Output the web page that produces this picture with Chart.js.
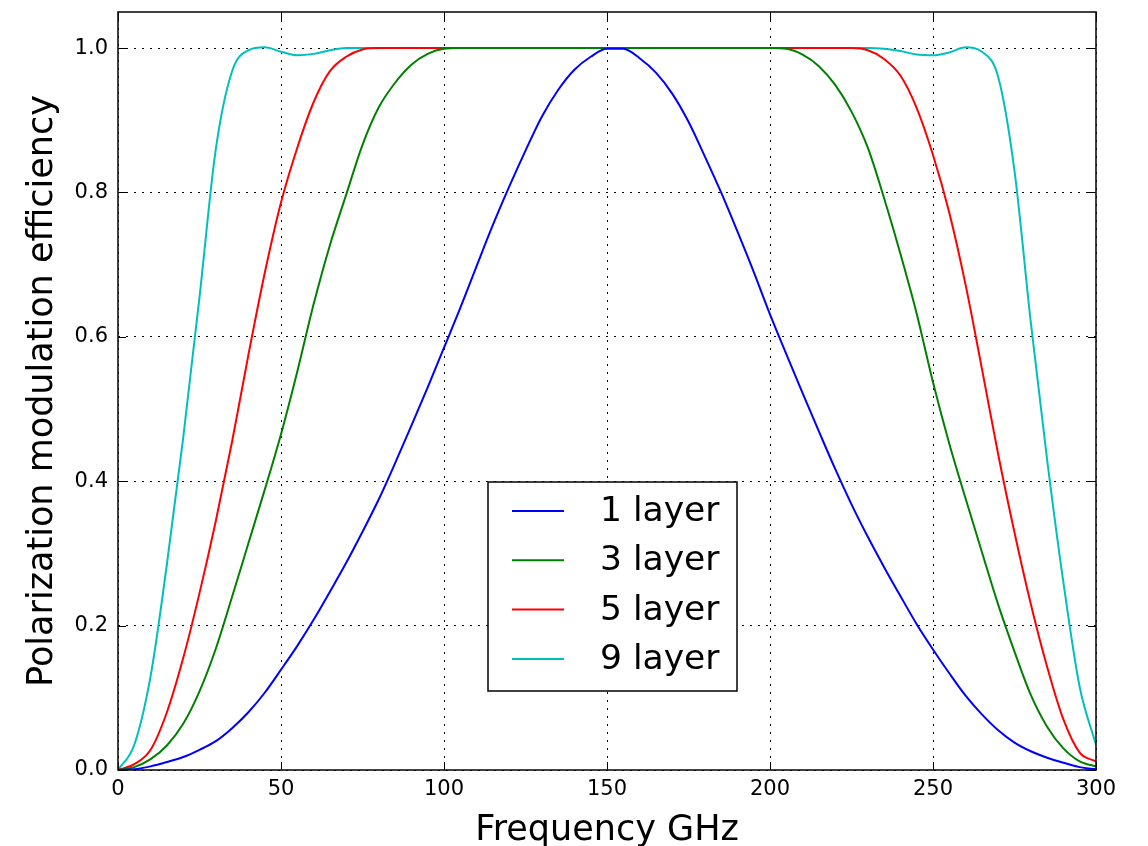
<!DOCTYPE html>
<html>
<head>
<meta charset="utf-8">
<script src="https://cdn.jsdelivr.net/npm/chart.js@4/dist/chart.umd.min.js"></script>
<style>
  html, body { margin: 0; padding: 0; background: #ffffff; }
  #wrap { width: 1148px; height: 846px; }
</style>
</head>
<body>
<div id="wrap"><canvas id="c" width="1148" height="846"></canvas></div>
<script>
// ---- data ----
const freq = [0,5,10,15,20,25,30,35,40,45,50,55,60,65,70,75,80,85,90,95,
  100,105,110,115,120,125,130,135,140,145,150,155,160,165,170,175,180,185,190,195,
  200,205,210,215,220,225,230,235,240,245,250,255,260,265,270,275,280,285,290,295,300];

const layer1 = [0,0.001,0.005,0.011,0.018,0.028,0.040,0.058,0.080,0.107,
  0.139,0.172,0.208,0.247,0.287,0.330,0.375,0.425,0.477,0.530,
  0.585,0.640,0.698,0.755,0.808,0.858,0.905,0.942,0.970,0.988,
  0.999,0.999,0.986,0.966,0.937,0.898,0.850,0.800,0.746,0.690,
  0.631,0.576,0.522,0.469,0.417,0.368,0.323,0.281,0.241,0.202,
  0.167,0.134,0.103,0.077,0.055,0.038,0.026,0.017,0.010,0.004,0.001];

const layer3 = [0,0.004,0.015,0.034,0.064,0.109,0.168,0.240,0.314,0.388,
  0.465,0.552,0.645,0.727,0.797,0.866,0.918,0.952,0.977,0.992,
  0.999,1,1,1,1,1,1,1,1,1,
  1,1,1,1,1,1,1,1,1,1,
  1,0.999,0.991,0.975,0.949,0.912,0.862,0.792,0.715,0.632,
  0.537,0.452,0.376,0.302,0.229,0.164,0.104,0.060,0.030,0.012,0.005];

const layer5 = [0,0.008,0.028,0.080,0.155,0.245,0.345,0.455,0.575,0.688,
  0.786,0.862,0.925,0.968,0.988,0.998,1,1,1,1,
  1,1,1,1,1,1,1,1,1,1,
  1,1,1,1,1,1,1,1,1,1,
  1,1,1,1,1,1,0.997,0.985,0.962,0.917,
  0.852,0.772,0.672,0.556,0.437,0.329,0.230,0.143,0.070,0.024,0.012];

const layer9 = [0,0.035,0.130,0.285,0.460,0.655,0.860,0.968,0.997,1.001,
  0.995,0.990,0.992,0.997,1,1,1,1,1,1,
  1,1,1,1,1,1,1,1,1,1,
  1,1,1,1,1,1,1,1,1,1,
  1,1,1,1,1,1,1,0.999,0.996,0.991,
  0.990,0.994,1.001,0.995,0.960,0.830,0.620,0.430,0.260,0.115,0.035];

const seriesLabels = ['1 layer', '3 layer', '5 layer', '9 layer'];
const xTicks = [0, 50, 100, 150, 200, 250, 300];
const yTicks = [0, 0.2, 0.4, 0.6, 0.8, 1.0];

// ---- chart ----
const FONT = "'DejaVu Sans', 'Liberation Sans', sans-serif";
Chart.defaults.color = '#000';
Chart.defaults.font.family = FONT;

const colors = ['#0000ff', '#008000', '#ff0000', '#00bfbf'];
const values = [layer1, layer3, layer5, layer9];

const datasets = values.map((vals, i) => ({
  label: seriesLabels[i],
  data: freq.map((f, j) => ({ x: f, y: vals[j] })),
  borderColor: colors[i],
  backgroundColor: colors[i],
  borderWidth: 2,
  pointRadius: 0,
  fill: false,
  cubicInterpolationMode: 'monotone'
}));

const frameTicks = {
  id: 'frameTicks',
  afterDatasetsDraw(chart) {
    const { ctx, chartArea: a, scales } = chart;
    ctx.save();
    ctx.strokeStyle = '#000';
    ctx.lineWidth = 1;
    const L = 8;
    ctx.beginPath();
    xTicks.forEach(v => {
      const px = Math.round(scales.x.getPixelForValue(v)) + 0.5;
      ctx.moveTo(px, a.bottom); ctx.lineTo(px, a.bottom - L);
      ctx.moveTo(px, a.top); ctx.lineTo(px, a.top + L);
    });
    yTicks.forEach(v => {
      const py = Math.round(scales.y.getPixelForValue(v)) + 0.5;
      ctx.moveTo(a.left, py); ctx.lineTo(a.left + L, py);
      ctx.moveTo(a.right, py); ctx.lineTo(a.right - L, py);
    });
    ctx.stroke();
    ctx.lineWidth = 1.6;
    ctx.strokeStyle = '#111';
    ctx.strokeRect(a.left, a.top, a.right - a.left, a.bottom - a.top);
    ctx.restore();
  }
};

const boxLegend = {
  id: 'boxLegend',
  afterDraw(chart) {
    const { ctx, chartArea: a } = chart;
    const bx = a.left + 370, by = a.top + 470, bw = 249, bh = 209;
    ctx.save();
    ctx.fillStyle = '#fff';
    ctx.fillRect(bx, by, bw, bh);
    ctx.strokeStyle = '#111';
    ctx.lineWidth = 1.6;
    ctx.strokeRect(bx, by, bw, bh);
    ctx.font = '34.5px ' + FONT;
    ctx.textBaseline = 'middle';
    ctx.textAlign = 'left';
    chart.data.datasets.forEach((ds, i) => {
      const y = by + 29 + i * 49.3;
      ctx.strokeStyle = ds.borderColor;
      ctx.lineWidth = 2;
      ctx.beginPath();
      ctx.moveTo(bx + 24, y); ctx.lineTo(bx + 76, y);
      ctx.stroke();
      ctx.fillStyle = '#000';
      ctx.fillText(ds.label, bx + 112, y + 1);
    });
    ctx.restore();
  }
};

new Chart(document.getElementById('c'), {
  type: 'line',
  data: { datasets },
  options: {
    responsive: false,
    devicePixelRatio: 1,
    animation: false,
    parsing: true,
    layout: { padding: { top: 12, right: 52, bottom: 0, left: 0 } },
    plugins: { legend: { display: false }, tooltip: { enabled: false } },
    scales: {
      x: {
        type: 'linear', min: 0, max: 300,
        afterBuildTicks: s => { s.ticks = xTicks.map(v => ({ value: v })); },
        afterFit: s => { s.height = 76; s.paddingLeft = 0; s.paddingRight = 0; },
        ticks: { font: { size: 21, family: FONT }, padding: 7, maxRotation: 0, autoSkip: false,
                 callback: v => String(v) },
        grid: { color: '#000', lineWidth: 1, drawTicks: false },
        border: { display: false, dash: [2, 6] },
        title: { display: true, text: 'Frequency GHz',
                 font: { size: 35, family: FONT, lineHeight: 0.8 }, padding: { top: 0, bottom: 1 } }
      },
      y: {
        type: 'linear', min: 0, max: 1.05,
        afterBuildTicks: s => { s.ticks = yTicks.map(v => ({ value: v })); },
        afterFit: s => { s.width = 118; s.paddingTop = 0; s.paddingBottom = 0; },
        ticks: { font: { size: 21, family: FONT }, padding: 10, autoSkip: false,
                 callback: v => Number(v).toFixed(1) },
        grid: { color: '#000', lineWidth: 1, drawTicks: false },
        border: { display: false, dash: [2, 6] },
        title: { display: true, text: 'Polarization modulation efficiency',
                 font: { size: 35, family: FONT, lineHeight: 0.8 }, padding: { top: 29, bottom: 0 } }
      }
    }
  },
  plugins: [frameTicks, boxLegend]
});
</script>
</body>
</html>
